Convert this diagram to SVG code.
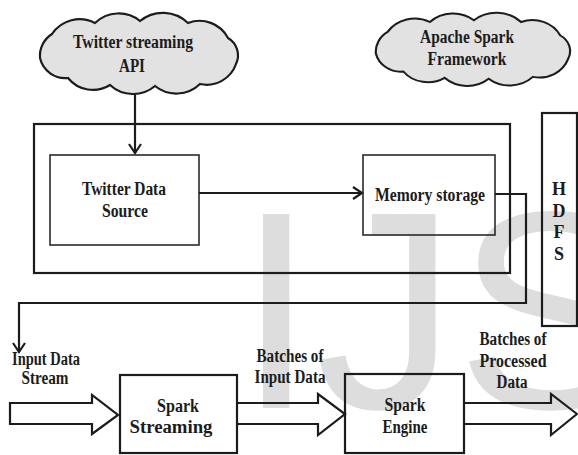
<svg xmlns="http://www.w3.org/2000/svg" xmlns:xlink="http://www.w3.org/1999/xlink" width="578" height="455" viewBox="0 0 578 455">
<style>
.lbl{font-family:"Liberation Serif","Times New Roman",serif;font-size:18px;font-weight:bold;fill:#1c1c1c;text-anchor:middle}
.box{fill:none;stroke:#2a2a2a;stroke-width:1.6}
.frame{fill:none;stroke:#1c1c1c;stroke-width:2.2}
.line{fill:none;stroke:#1c1c1c;stroke-width:2.2}
.hollow{fill:none;stroke:#1c1c1c;stroke-width:2.2;stroke-linejoin:miter}
.cloud{fill:#e2e2e2;stroke:#1c1c1c;stroke-width:2.2}
.wm{font-family:"Liberation Sans",Arial,sans-serif;font-size:282px;fill:#dddddd}
</style>
<defs>
<marker id="arr" viewBox="-11 -8 13 16" refX="0" refY="0" markerWidth="13" markerHeight="16" markerUnits="userSpaceOnUse" orient="auto">
<path d="M-9,-6 L0,0 L-9,6" fill="none" stroke="#1c1c1c" stroke-width="2.2"/>
</marker>
<path id="cloudShape" d="M40,58 A26,26 0 0 1 52,34 A33,33 0 0 1 95,23 A34,34 0 0 1 140,21 A36,36 0 0 1 188,23 A32,32 0 0 1 228,38 A20,20 0 0 1 236,64 A31,31 0 0 1 200,84 A34,34 0 0 1 155,86 A34,34 0 0 1 110,85 A32,32 0 0 1 68,78 A26,26 0 0 1 40,58 Z"/>
</defs>
<rect width="578" height="455" fill="#ffffff"/>
<text class="wm" x="237" y="408">IJS</text>

<g id="cloud-twitter-api">
<use xlink:href="#cloudShape" class="cloud"/>
<text class="lbl" x="133" y="48" textLength="120" lengthAdjust="spacingAndGlyphs">Twitter streaming</text>
<text class="lbl" x="132" y="72" textLength="26" lengthAdjust="spacingAndGlyphs">API</text>
</g>

<g id="cloud-apache-spark">
<use xlink:href="#cloudShape" class="cloud" vector-effect="non-scaling-stroke" transform="translate(369,13) scale(0.981,0.9) translate(-33,-13)"/>
<text class="lbl" x="467" y="43" textLength="94" lengthAdjust="spacingAndGlyphs">Apache Spark</text>
<text class="lbl" x="467" y="65" textLength="79" lengthAdjust="spacingAndGlyphs">Framework</text>
</g>

<g id="spark-framework-frame">
<rect class="frame" x="34" y="124" width="476" height="149"/>
</g>

<g id="twitter-data-source">
<rect class="box" x="50" y="155" width="149" height="90"/>
<text class="lbl" x="124" y="195" textLength="84" lengthAdjust="spacingAndGlyphs">Twitter Data</text>
<text class="lbl" x="125" y="217" textLength="46" lengthAdjust="spacingAndGlyphs">Source</text>
</g>

<g id="memory-storage">
<rect class="box" x="363" y="155" width="132" height="80"/>
<text class="lbl" x="430" y="201" textLength="110" lengthAdjust="spacingAndGlyphs">Memory storage</text>
</g>

<g id="hdfs">
<rect class="frame" x="542" y="113" width="35" height="213"/>
<text class="lbl" x="559" y="195">H</text>
<text class="lbl" x="559" y="217">D</text>
<text class="lbl" x="559" y="238">F</text>
<text class="lbl" x="559" y="260">S</text>
</g>

<g id="spark-streaming">
<rect class="frame" x="120" y="375" width="117" height="78"/>
<text class="lbl" x="178" y="412" textLength="42" lengthAdjust="spacingAndGlyphs">Spark</text>
<text class="lbl" x="171" y="433" textLength="83" lengthAdjust="spacingAndGlyphs">Streaming</text>
</g>

<g id="spark-engine">
<rect class="frame" x="345" y="374" width="119" height="79"/>
<text class="lbl" x="405" y="411" textLength="41" lengthAdjust="spacingAndGlyphs">Spark</text>
<text class="lbl" x="405" y="433" textLength="45" lengthAdjust="spacingAndGlyphs">Engine</text>
</g>

<g id="labels">
<text class="lbl" x="46" y="365" textLength="68" lengthAdjust="spacingAndGlyphs">Input Data</text>
<text class="lbl" x="45" y="384" textLength="47" lengthAdjust="spacingAndGlyphs">Stream</text>
<text class="lbl" x="290" y="362" textLength="67" lengthAdjust="spacingAndGlyphs">Batches of</text>
<text class="lbl" x="290" y="383" textLength="71" lengthAdjust="spacingAndGlyphs">Input Data</text>
<text class="lbl" x="513" y="345" textLength="67" lengthAdjust="spacingAndGlyphs">Batches of</text>
<text class="lbl" x="513" y="367" textLength="67" lengthAdjust="spacingAndGlyphs">Processed</text>
<text class="lbl" x="512" y="388" textLength="31" lengthAdjust="spacingAndGlyphs">Data</text>
</g>

<g id="connectors">
<line class="line" x1="135" y1="93" x2="135" y2="153" marker-end="url(#arr)"/>
<line class="line" x1="199" y1="193" x2="362" y2="193" marker-end="url(#arr)"/>
<polyline class="line" points="495,194 526,194 526,303 19,303 19,352" marker-end="url(#arr)"/>
<polygon class="hollow" points="10,403 92,403 92,395 118,415 92,434 92,424 10,424"/>
<polyline class="hollow" points="237,403 318,403 318,394 345,414 318,435 318,424 237,424"/>
<polyline class="hollow" points="464,403 551,403 551,394 577,414 551,435 551,424 464,424"/>
</g>
</svg>
